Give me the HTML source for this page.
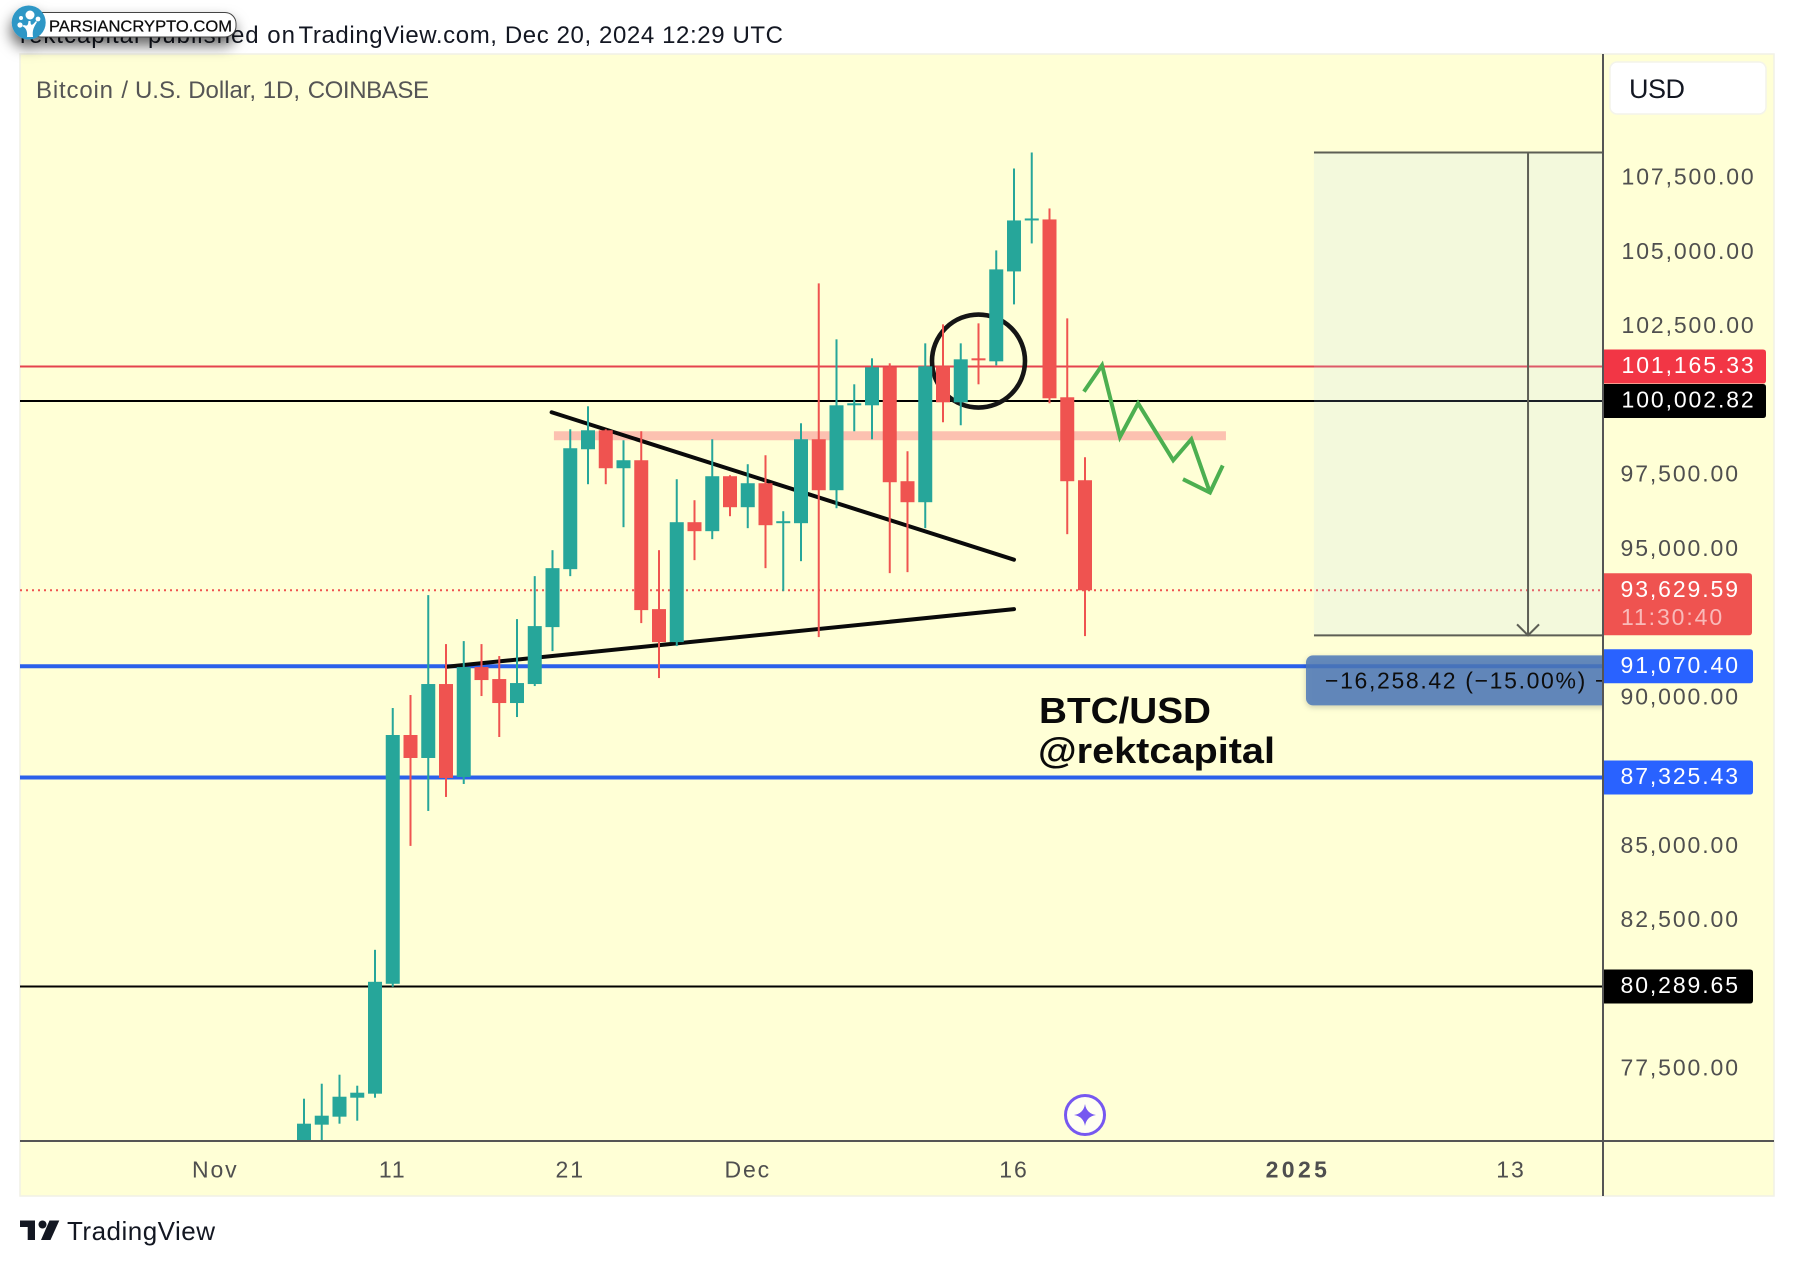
<!DOCTYPE html>
<html lang="en">
<head>
<meta charset="utf-8">
<title>BTC/USD chart</title>
<style>
  html, body { margin: 0; padding: 0; background: #ffffff; }
  body { width: 1794px; height: 1266px; overflow: hidden; }
  svg { display: block; font-family: "Liberation Sans", sans-serif; }
  .tick { font-size: 23px; fill: #4f4f4f; letter-spacing: 1.9px; }
  .tag-text { font-size: 23px; fill: #ffffff; letter-spacing: 1.9px; }
</style>
</head>
<body>
<svg id="chart" xmlns="http://www.w3.org/2000/svg" width="1794" height="1266" viewBox="0 0 1794 1266">
  <defs>
    <clipPath id="plot-clip"><rect x="20" y="54" width="1583" height="1086"></rect></clipPath>
    <filter id="label-shadow" x="-10%" y="-30%" width="120%" height="170%">
      <feDropShadow dx="0" dy="2" stdDeviation="3" flood-color="#000" flood-opacity="0.22"></feDropShadow>
    </filter>
    <filter id="logo-shadow" x="-15%" y="-40%" width="130%" height="240%">
      <feDropShadow dx="-1" dy="8" stdDeviation="7" flood-color="#000" flood-opacity="0.6"></feDropShadow>
    </filter>
  </defs>

  <text y="43" font-size="24" fill="#131722"><tspan x="20" textLength="275" lengthAdjust="spacing">rektcapital published on</tspan><tspan x="298.5" textLength="484.5" lengthAdjust="spacing">TradingView.com, Dec 20, 2024 12:29 UTC</tspan></text>

  <rect x="20" y="54" width="1754" height="1142" fill="#ffffd6" stroke="#f1f1e6" stroke-width="1.5"></rect>
  <text y="98" font-size="24" fill="#555555"><tspan x="36" textLength="92" lengthAdjust="spacing">Bitcoin /</tspan><tspan x="135" textLength="165" lengthAdjust="spacing">U.S. Dollar, 1D,</tspan><tspan x="307.7" textLength="121.3" lengthAdjust="spacing">COINBASE</tspan></text>

  <g id="plot" clip-path="url(#plot-clip)"></g>

  <text x="1039" y="723" font-size="36" font-weight="700" fill="#0a0a0a" textLength="172" lengthAdjust="spacingAndGlyphs">BTC/USD</text>
  <text x="1038" y="763" font-size="36" font-weight="700" fill="#0a0a0a" textLength="237" lengthAdjust="spacingAndGlyphs">@rektcapital</text>

  <g>
    <circle cx="1085" cy="1115" r="19.5" fill="#fffff2" stroke="#7658f0" stroke-width="3"></circle>
    <path d="M1085 1104 Q1086.5 1113.5 1096 1115 Q1086.5 1116.5 1085 1126 Q1083.5 1116.5 1074 1115 Q1083.5 1113.5 1085 1104 Z" fill="#7658f0"></path>
  </g>

  <rect x="1604" y="55" width="169" height="1085" fill="#ffffd6"></rect>
  <g id="axes"></g>
  <line x1="1603" y1="54" x2="1603" y2="1196" stroke="#555555" stroke-width="2"></line>
  <line x1="20" y1="1141" x2="1774" y2="1141" stroke="#555555" stroke-width="2"></line>

  <g>
    <rect x="1610" y="62" width="156" height="52" rx="7" fill="#ffffff" stroke="#f4f4ea" stroke-width="1.5"></rect>
    <text x="1629" y="98" font-size="27" fill="#131722" textLength="56" lengthAdjust="spacing">USD</text>
  </g>

  <g id="tags"></g>

  <g>
    <path d="M20 1220.5H35V1240H27.7V1227H20Z" fill="#131722"></path>
    <circle cx="42.5" cy="1224.5" r="4" fill="#131722"></circle>
    <path d="M49.5 1220.5H59.3L50.5 1240H41Z" fill="#131722"></path>
    <text x="67" y="1240" font-size="26" fill="#131722" textLength="148" lengthAdjust="spacing">TradingView</text>
  </g>

  <g filter="url(#logo-shadow)">
    <rect x="30" y="12.5" width="206" height="24.5" rx="11" fill="#ffffff" stroke="#444444" stroke-width="1"></rect>
    <circle cx="28.7" cy="22.5" r="17" fill="#2e97c6"></circle>
    <g fill="#ffffff">
      <circle cx="30" cy="15" r="4.5"></circle>
      <circle cx="21" cy="18" r="2"></circle>
      <circle cx="20" cy="25" r="2.6"></circle>
      <circle cx="38" cy="19" r="2.4"></circle>
      <path d="M27 37 C28 29 24 27 22 26 L24 25 C27 26 28 26 28.5 21 L30.5 21 C30.5 26 32 26 36 21 L37 22 C34 27 32 30 33 37Z"></path>
    </g>
    <text x="49" y="31.5" font-size="16" fill="#0a0a0a" stroke="#0a0a0a" stroke-width="0.25" textLength="183" lengthAdjust="spacingAndGlyphs">PARSIANCRYPTO.COM</text>
  </g>
</svg>

<script>
// ---- Candle data ----
const categories = ['Nov 6','Nov 7','Nov 8','Nov 9','Nov 10','Nov 11','Nov 12','Nov 13','Nov 14','Nov 15','Nov 16','Nov 17','Nov 18','Nov 19','Nov 20','Nov 21','Nov 22','Nov 23','Nov 24','Nov 25','Nov 26','Nov 27','Nov 28','Nov 29','Nov 30','Dec 1','Dec 2','Dec 3','Dec 4','Dec 5','Dec 6','Dec 7','Dec 8','Dec 9','Dec 10','Dec 11','Dec 12','Dec 13','Dec 14','Dec 15','Dec 16','Dec 17','Dec 18','Dec 19','Dec 20'];
const opens  = [74796,75637,75906,76545,76680,80380,88757,87983,90473,87344,91044,90641,89833,90473,92390,94341,98378,99017,97739,98008,92996,91885,95922,95620,97470,96427,97234,95889,95889,98715,96999,99858,99858,101137,97302,96595,101170,99959,101440,101339,104366,106082,106116,100128,97335];
const closes = [75670,75939,76578,76713,80447,88757,87983,90473,87310,91044,90607,89833,90506,92424,94375,98412,99017,97739,98008,92962,91885,95922,95620,97470,96427,97234,95821,95956,98715,96999,99858,99926,101137,97268,96595,101170,99959,101406,101372,104434,106082,106149,100094,97302,93630];
const highs  = [76511,77016,77319,76949,81524,89665,90103,93467,91818,91919,91818,91415,92659,94106,94980,99051,99825,99051,98681,98984,94980,97369,96662,98715,97504,97874,98176,96292,99253,103963,102079,100565,101440,101272,98311,101944,102583,101944,102617,105073,107831,108370,106486,102785,98109];
const lows   = [74628,74796,75670,75771,76545,80279,85023,86200,86671,87108,90069,88690,89362,90405,91583,94106,97201,97201,95754,92525,90674,91751,94644,95351,96124,95721,94375,93601,94610,92054,96393,98984,98715,94207,94240,95721,99287,99186,100565,101204,103256,105308,99926,95519,92087];

// ---- Axis tick data ----
const priceTicks = [107500,105000,102500,97500,95000,90000,85000,82500,77500];
const priceTickLabels = ['107,500.00','105,000.00','102,500.00','97,500.00','95,000.00','90,000.00','85,000.00','82,500.00','77,500.00'];
const timeTickIndex = [-5,5,15,25,40,56,68];
const timeTickLabels = ['Nov','11','21','Dec','16','2025','13'];

// ---- Horizontal level data ----
const levelPrices = [101165.33,100002.82,91070.40,87325.43,80289.65];
const levelLabels = ['101,165.33','100,002.82','91,070.40','87,325.43','80,289.65'];
const levelColors = ['#e5434e','#000000','#2b60ea','#2b60ea','#000000'];
const levelTagColors = ['#f23645','#000000','#2962ff','#2962ff','#000000'];
const levelWeights = [2,2,4,4,2];
const lastPrice = 93629.59;
const lastPriceLabel = '93,629.59';
const countdownLabel = '11:30:40';

// ---- Drawing tool anchors in (bar index, price) ----
const upperTrendIndex = [13.95,40.0];
const upperTrendPrice = [99623,94660];
const lowerTrendIndex = [8.04,40.0];
const lowerTrendPrice = [91055,92996];
const resistanceIndex = [14.08,51.94];
const resistancePrice = [98984,98681];
const circleAnchorIndex = [38];
const circleAnchorPrice = [101349];
const zigzagIndex = [43.94,44.96,45.97,46.99,48.97,49.99,51.04];
const zigzagPrice = [100319,101204,98792,99926,98008,98715,96922];
const arrowIndex = [49.52,51.04,51.76];
const arrowPrice = [97369,96922,97830];
const measureIndex = [56.9,68.96];
const measurePrice = [108370,92111.58];
const measureText = '\u221216,258.42 (\u221215.00%) \u221216,258.42';

// ---- Axis functions ----
function xOf(i) { return 304 + i * 17.75; }
function yOf(p) { return 401 + (100002.82 - p) * 0.0297; }

const NS = 'http://www.w3.org/2000/svg';
function make(parent, tag, attrs, text) {
  const el = document.createElementNS(NS, tag);
  for (const k in attrs) el.setAttribute(k, attrs[k]);
  if (text !== undefined) el.textContent = text;
  parent.appendChild(el);
  return el;
}
const plot = document.getElementById('plot');
const axes = document.getElementById('axes');
const tags = document.getElementById('tags');

// Resistance zone
const resistance = make(plot, 'rect', {
  x: xOf(resistanceIndex[0]), y: yOf(resistancePrice[0]),
  width: xOf(resistanceIndex[1]) - xOf(resistanceIndex[0]),
  height: yOf(resistancePrice[1]) - yOf(resistancePrice[0]), fill: '#fcc1b0'
});



// Levels
levelPrices.forEach(function (p, i) {
  const line = make(plot, 'line', {
    x1: 20, x2: 1603, y1: yOf(p), y2: yOf(p),
    stroke: levelColors[i], 'stroke-width': levelWeights[i]
  });
  
  
});

// Last price dotted line
const lastLine = make(plot, 'line', {
  x1: 20, x2: 1603, y1: yOf(lastPrice), y2: yOf(lastPrice),
  stroke: '#ef5350', 'stroke-width': 2, 'stroke-dasharray': '2 4'
});



// Trend lines
const upperTrend = make(plot, 'line', {
  x1: xOf(upperTrendIndex[0]), y1: yOf(upperTrendPrice[0]),
  x2: xOf(upperTrendIndex[1]), y2: yOf(upperTrendPrice[1]),
  stroke: '#0a0a0a', 'stroke-width': 4, 'stroke-linecap': 'round'
});


const lowerTrend = make(plot, 'line', {
  x1: xOf(lowerTrendIndex[0]), y1: yOf(lowerTrendPrice[0]),
  x2: xOf(lowerTrendIndex[1]), y2: yOf(lowerTrendPrice[1]),
  stroke: '#0a0a0a', 'stroke-width': 4, 'stroke-linecap': 'round'
});



// Circle highlight
const highlight = make(plot, 'circle', {
  cx: xOf(circleAnchorIndex[0]), cy: yOf(circleAnchorPrice[0]), r: 46.5,
  fill: 'none', stroke: '#151515', 'stroke-width': 4.6
});



// Candles
categories.forEach(function (day, i) {
  const up = closes[i] >= opens[i];
  const color = up ? '#26a69a' : '#ef5350';
  const top = yOf(Math.max(opens[i], closes[i]));
  const bottom = yOf(Math.min(opens[i], closes[i]));
  const g = make(plot, 'g', {});
  
  
  const wick = make(g, 'rect', {
    x: xOf(i) - 1, width: 2, y: yOf(highs[i]),
    height: yOf(lows[i]) - yOf(highs[i]), fill: color
  });
  
  
  const body = make(g, 'rect', {
    x: xOf(i) - 7, width: 14, y: top,
    height: Math.max(bottom - top, 2), fill: color
  });
  
  
});

// Projected path
const zigzagPoints = zigzagIndex.map(function (v, i) { return xOf(v) + ',' + yOf(zigzagPrice[i]); }).join(' ');
const zigzag = make(plot, 'polyline', {
  points: zigzagPoints, fill: 'none', stroke: '#4caf50', 'stroke-width': 4, 'stroke-linejoin': 'miter'
});


const arrowPoints = arrowIndex.map(function (v, i) { return xOf(v) + ',' + yOf(arrowPrice[i]); }).join(' ');
const arrow = make(plot, 'polyline', {
  points: arrowPoints, fill: 'none', stroke: '#4caf50', 'stroke-width': 4
});



// Measure tool
const mx0 = xOf(measureIndex[0]);
const mxc = xOf(measureIndex[1]);
const my0 = yOf(measurePrice[0]);
const my1 = yOf(measurePrice[1]);
const measureZone = make(plot, 'rect', {
  x: mx0, y: my0, width: 1603 - mx0, height: my1 - my0, fill: 'rgb(175,215,255)', 'fill-opacity': 0.15
});


const measureTop = make(plot, 'line', { x1: mx0, x2: 1603, y1: my0, y2: my0, stroke: '#5d5f55', 'stroke-width': 2 });


const measureBottom = make(plot, 'line', { x1: mx0, x2: 1603, y1: my1, y2: my1, stroke: '#5d5f55', 'stroke-width': 2 });


const measureArrow = make(plot, 'path', {
  d: 'M' + mxc + ' ' + my0 + 'V' + my1 + 'M' + (mxc - 11) + ' ' + (my1 - 11) + 'L' + mxc + ' ' + my1 + 'L' + (mxc + 11) + ' ' + (my1 - 11),
  fill: 'none', stroke: '#5d5f55', 'stroke-width': 2
});


const measureLabelBox = make(plot, 'rect', {
  x: 1306, y: my1 + 20, width: 320, height: 50, rx: 7, fill: '#4a76b8', 'fill-opacity': 0.84, filter: 'url(#label-shadow)'
});


const measureLabel = make(plot, 'text', {
  x: 1325, y: my1 + 53, 'font-size': 23, fill: '#0d0d0d', 'letter-spacing': 1.65
}, measureText);



// Price ticks
priceTicks.forEach(function (p, i) {
  const t = make(axes, 'text', {
    class: 'tick', x: priceTickLabels[i].length > 9 ? 1621.5 : 1620.5, y: yOf(p) + 6.3
  }, priceTickLabels[i]);
  
  
});

// Time ticks
timeTickIndex.forEach(function (v, i) {
  const bold = timeTickLabels[i] === '2025';
  const t = make(axes, 'text', {
    class: 'tick', x: xOf(v), y: 1177.5, 'text-anchor': 'middle',
    'font-weight': bold ? 700 : 400,
    style: bold ? 'letter-spacing:3.4px' : ''
  }, timeTickLabels[i]);
  
  
});

// Level tags
levelPrices.forEach(function (p, i) {
  const y = yOf(p);
  const wide = levelLabels[i].length > 9;
  const box = make(tags, 'path', {
    d: 'M1604 ' + (y - 17) + 'H' + ((wide ? 1766 : 1753) - 3) + 'q3 0 3 3V' + (y + 14) + 'q0 3 -3 3H1604Z',
    fill: levelTagColors[i]
  });
  
  
  const label = make(tags, 'text', { class: 'tag-text', x: wide ? 1621.5 : 1620.5, y: y + 6.5 }, levelLabels[i]);
  
  
});

// Last price tag
const ly = yOf(lastPrice);
const lastBox = make(tags, 'path', {
  d: 'M1604 ' + (ly - 17) + 'H1749q3 0 3 3V' + (ly + 42) + 'q0 3 -3 3H1604Z', fill: '#ef5350'
});


const lastText = make(tags, 'text', { class: 'tag-text', x: 1620.5, y: ly + 6.5 }, lastPriceLabel);


const countdown = make(tags, 'text', { class: 'tag-text', x: 1621, y: ly + 34.5, 'fill-opacity': 0.6 }, countdownLabel);


</script>
</body>
</html>
